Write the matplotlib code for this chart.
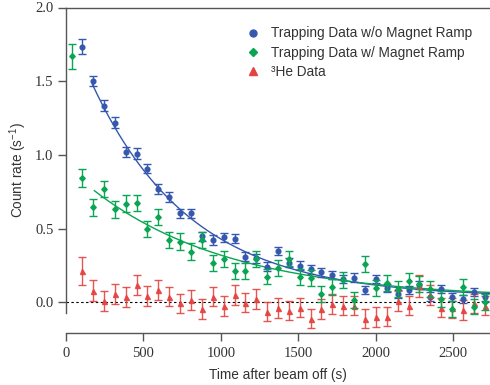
import numpy as np
import matplotlib
matplotlib.use("Agg")
import matplotlib.pyplot as plt
from matplotlib.lines import Line2D

plt.rcParams['font.family'] = ['Liberation Sans', 'DejaVu Sans']
plt.rcParams['mathtext.fontset'] = 'custom'
plt.rcParams['mathtext.rm'] = 'Liberation Sans'
plt.rcParams['mathtext.it'] = 'Liberation Sans:italic'

# time bins (s)
times = [37, 105, 175, 245, 316, 386, 456, 526, 596, 667, 737, 807, 877, 947,
         1017, 1088, 1158, 1228, 1298, 1368, 1439, 1509, 1579, 1649, 1719, 1790,
         1860, 1930, 2000, 2070, 2140, 2211, 2281, 2351, 2421, 2491, 2562, 2632, 2702]

# Trapping data w/o magnet ramp (starts at second bin)
blue_y = [1.735, 1.503, 1.335, 1.22, 1.023, 1.01, 0.908, 0.768, 0.714, 0.605,
          0.605, 0.449, 0.424, 0.442, 0.433, 0.311, 0.300, 0.243, 0.349, 0.270,
          0.250, 0.225, 0.205, 0.187, 0.159, 0.168, 0.085, 0.159, 0.100, 0.056,
          0.085, 0.119, 0.040, 0.092, 0.040, 0.024, 0.073, 0.040]
blue_err = [0.050, 0.035, 0.035, 0.035, 0.034, 0.034, 0.033, 0.033, 0.032, 0.032,
            0.032, 0.032, 0.031, 0.031, 0.031, 0.030, 0.030, 0.030, 0.030, 0.030,
            0.030, 0.030, 0.029, 0.029, 0.029, 0.029, 0.029, 0.029, 0.028, 0.028,
            0.028, 0.028, 0.028, 0.028, 0.027, 0.027, 0.027, 0.027]

# Trapping data w/ magnet ramp (starts at first bin)
green_y = [1.668, 0.842, 0.646, 0.770, 0.632, 0.670, 0.673, 0.499, 0.578, 0.424,
           0.413, 0.345, 0.424, 0.270, 0.293, 0.214, 0.216, 0.293, 0.175, 0.232,
           0.297, 0.171, 0.164, 0.058, 0.107, 0.153, 0.017, 0.259, 0.096, 0.134,
           0.090, 0.148, 0.126, 0.092, 0.022, -0.044, 0.107, -0.028, 0.005]
green_err = [0.087, 0.060, 0.058, 0.057, 0.056, 0.056, 0.056, 0.055, 0.055, 0.055,
             0.055, 0.055, 0.054, 0.054, 0.054, 0.054, 0.054, 0.054, 0.053, 0.053,
             0.053, 0.053, 0.053, 0.053, 0.053, 0.053, 0.053, 0.053, 0.053, 0.053,
             0.053, 0.053, 0.053, 0.053, 0.053, 0.053, 0.053, 0.053, 0.053]

# 3He data (starts at second bin)
red_y = [0.214, 0.078, 0.012, 0.058, 0.037, 0.119, 0.044, 0.085, 0.040, -0.006,
         0.017, -0.044, 0.040, -0.024, 0.051, -0.001, 0.022, -0.062, -0.039, -0.055,
         -0.035, -0.110, -0.044, -0.010, -0.021, -0.021, -0.110, -0.100, -0.096, 0.010,
         -0.021, 0.112, 0.051, -0.035, -0.039, -0.051, -0.006, -0.021]
red_err = [0.097, 0.071, 0.067, 0.067, 0.066, 0.066, 0.066, 0.066, 0.066, 0.066,
           0.066, 0.066, 0.066, 0.066, 0.066, 0.066, 0.066, 0.066, 0.066, 0.066,
           0.066, 0.066, 0.066, 0.066, 0.066, 0.066, 0.066, 0.066, 0.066, 0.066,
           0.066, 0.072, 0.066, 0.066, 0.066, 0.066, 0.066, 0.066]

# exponential fit parameters: y = C + (y0 - C) * exp(-(t - t0)/tau)
blue_fit = dict(t0=170, y0=1.48, tau=640, C=0.035)
green_fit = dict(t0=183, y0=0.758, tau=900, C=0.025)

labels = ["Trapping Data w/o Magnet Ramp", "Trapping Data w/ Magnet Ramp", "³He Data"]
xticks = [0, 500, 1000, 1500, 2000, 2500]
yticks = [0.0, 0.5, 1.0, 1.5, 2.0]

BLUE = "#3558ae"
GREEN = "#0aa552"
RED = "#e4433f"

fig = plt.figure(figsize=(4.9, 3.85), dpi=100)
ax = fig.add_axes([66/490, 52/385, 424/490, (333-7.5)/385])

XMAX = 2737
ax.set_xlim(0, XMAX)
ax.set_ylim(-0.207, 2.0)

ax.plot([0, XMAX], [0, 0], color='black', lw=0.8, ls=(0, (2.2, 2.2)), zorder=1)

def fit_curve(p, tmax):
    t = np.linspace(p['t0'], tmax, 300)
    return t, p['C'] + (p['y0'] - p['C']) * np.exp(-(t - p['t0']) / p['tau'])

t_b, y_b = fit_curve(blue_fit, XMAX)
t_g, y_g = fit_curve(green_fit, XMAX)
ax.plot(t_b, y_b, color=BLUE, lw=1.0, zorder=3)
ax.plot(t_g, y_g, color=GREEN, lw=1.0, zorder=3)

ekw = dict(capsize=3, elinewidth=1.0, capthick=1.0, linestyle='none')
ax.errorbar(times[1:], blue_y, yerr=blue_err, color=BLUE, marker='o', ms=3.4,
            ecolor=BLUE, zorder=4, **ekw)
ax.errorbar(times, green_y, yerr=green_err, color=GREEN, marker='D', ms=2.8,
            ecolor=GREEN, zorder=5, **ekw)
ax.errorbar(times[1:], red_y, yerr=red_err, color=RED, marker='^', ms=3.6,
            ecolor=RED, zorder=4, alpha=0.9, **ekw)

# spines
sc = "#555555"
for s in ['left', 'bottom', 'top']:
    ax.spines[s].set_color(sc)
    ax.spines[s].set_linewidth(1.0)
ax.spines['right'].set_visible(False)
ax.spines['left'].set_bounds(-0.07, 2.0)

ax.set_xticks(xticks)
ax.set_xticklabels([str(v) for v in xticks])
ax.set_yticks(yticks)
ax.set_yticklabels([f"{v:.1f}" for v in yticks])
ax.tick_params(axis='both', direction='out', length=5.5, width=1.0, color=sc,
               labelsize=10.5, labelcolor='#333333', top=False, right=False)
ax.tick_params(axis='y', pad=3.5)
ax.tick_params(axis='x', pad=4.5)
for lab in ax.get_xticklabels() + ax.get_yticklabels():
    lab.set_family('Liberation Serif')

ax.set_xlabel("Time after beam off (s)", fontsize=9.8, color='#333333', labelpad=6)
ax.set_ylabel("Count rate (s$^{-1}$)", fontsize=9.8, color='#333333', labelpad=4)

handles = [Line2D([], [], color=BLUE, marker='o', ls='none', ms=5),
           Line2D([], [], color=GREEN, marker='D', ms=4.3, ls='none'),
           Line2D([], [], color=RED, marker='^', ms=5.5, ls='none')]
leg = fig.legend(handles, labels, loc='upper left', bbox_to_anchor=(246/490, (385-26.5)/385),
                 frameon=False, fontsize=9.8, handlelength=1.0, handletextpad=0.85,
                 labelspacing=0.37, borderpad=0, borderaxespad=0)
for t in leg.get_texts():
    t.set_color('#333333')

fig.savefig("out.png", dpi=100)
